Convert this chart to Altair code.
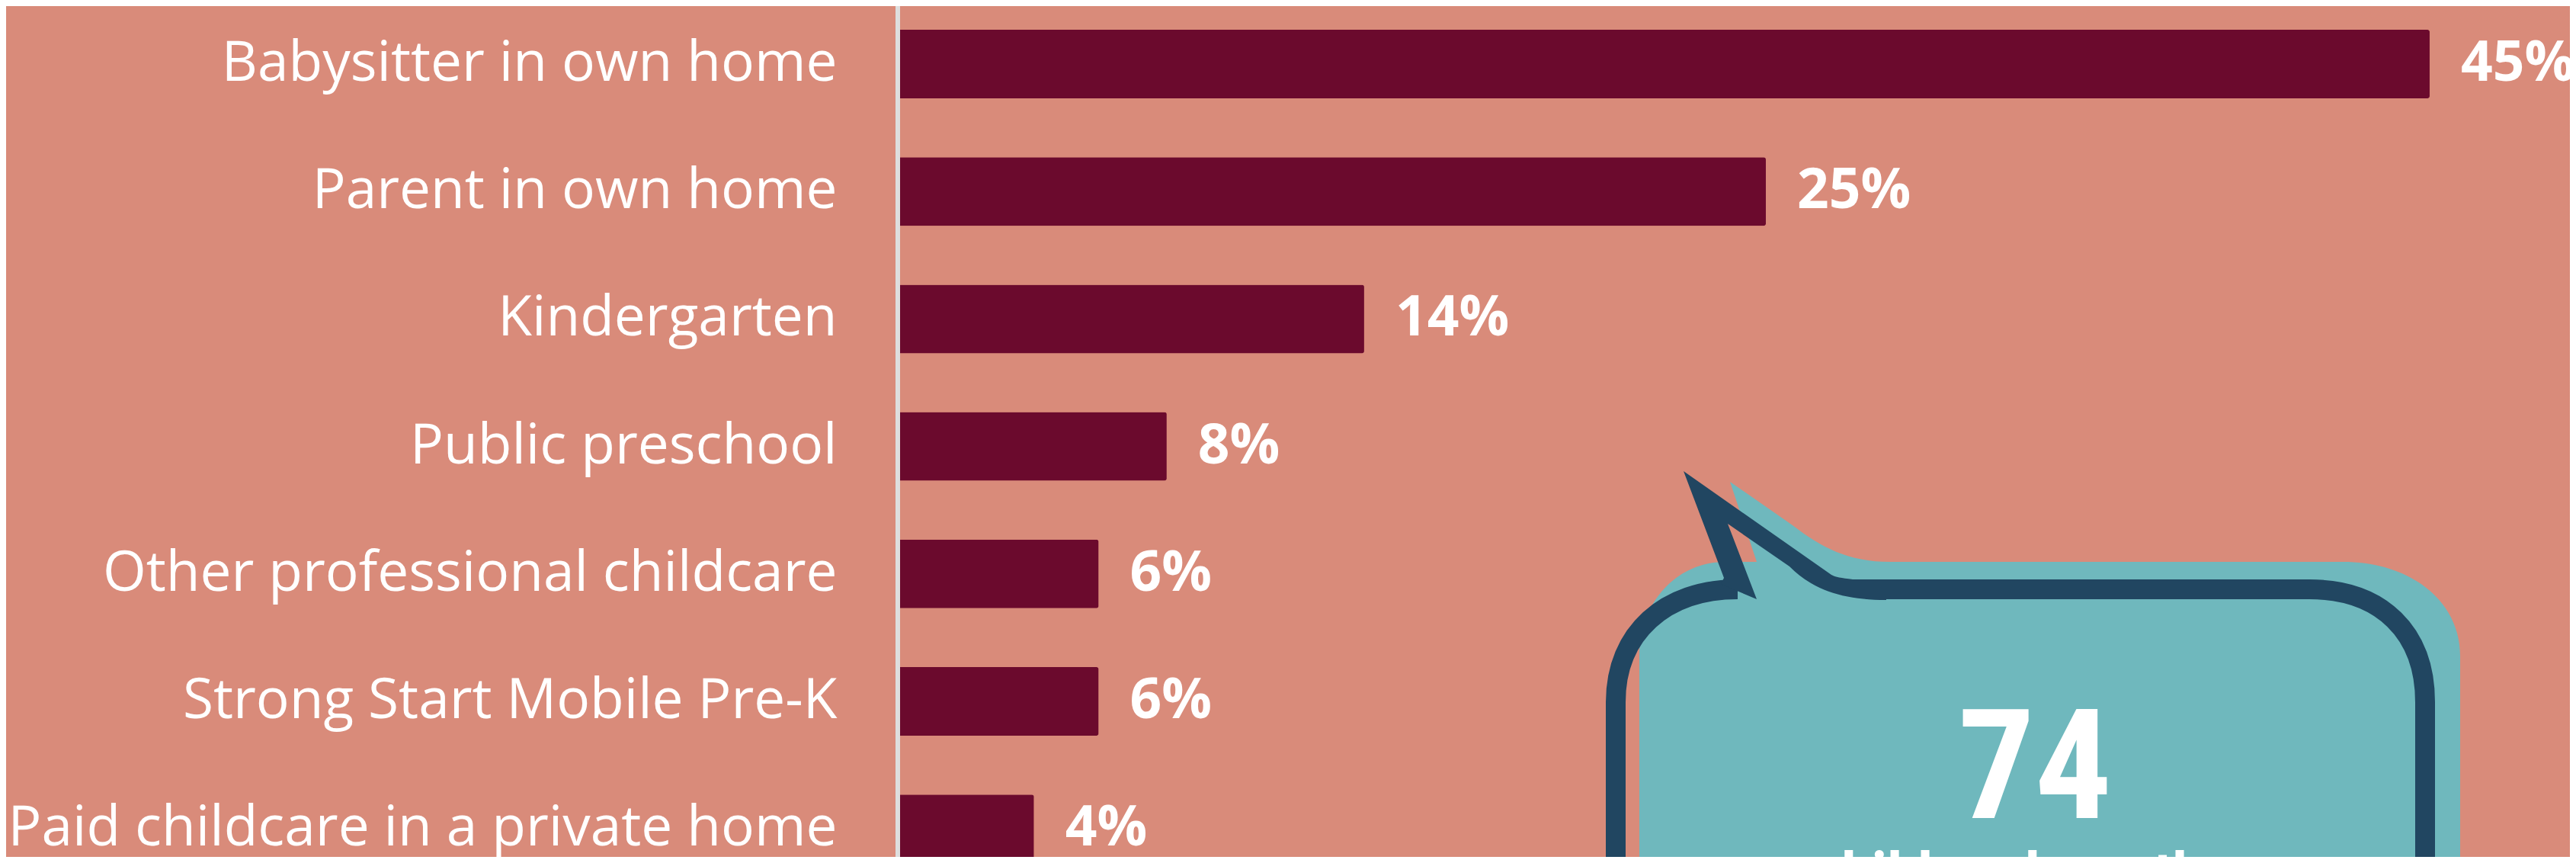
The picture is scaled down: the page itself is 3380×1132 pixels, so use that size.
import altair as alt
import pandas as pd

# ---- data ----
categories = [
    "Babysitter in own home",
    "Parent in own home",
    "Kindergarten",
    "Public preschool",
    "Other professional childcare",
    "Strong Start Mobile Pre-K",
    "Paid childcare in a private home",
]
shares = [45.0, 25.5, 13.7, 7.9, 5.9, 5.9, 4.0]
share_labels = ["45%", "25%", "14%", "8%", "6%", "6%", "4%"]
callout_number = ["74"]
callout_text = ["children have the"]

df = pd.DataFrame({"category": categories, "share": shares, "label": share_labels})

# ---- style ----
BG = "#d98b7a"
MAROON = "#6b0a2d"
TEAL = "#6fb8bd"
NAVY = "#214661"
AXIS = "#dedede"
SANS = "Open Sans"
CONDENSED = ("Noto Sans Condensed, Noto Sans ExtraCondensed, Roboto Condensed, "
             "Open Sans Condensed, Liberation Sans Narrow, DejaVu Sans Condensed, Roboto")

W = 2194
H = 1116
PAD_LEFT = 1170

xscale = alt.Scale(domain=[0, 49.12], nice=False, zero=True)
yscale = alt.Scale(domain=categories, range=[31, 1124.2], paddingInner=0.4617, paddingOuter=0)

base = alt.Chart(df)

bars = base.mark_bar(color=MAROON, cornerRadiusEnd=3).encode(
    x=alt.X("share:Q", scale=xscale, axis=None),
    y=alt.Y(
        "category:N",
        scale=yscale,
        sort=categories,
        axis=alt.Axis(
            title=None,
            domain=False,
            ticks=False,
            tickSize=0,
            grid=False,
            labelPadding=80,
            labelFont=SANS,
            labelFontSize=73,
            labelColor="white",
            labelLimit=1500,
        ),
    ),
)

values = base.mark_text(
    align="left", baseline="middle", dx=41, font=SANS, fontSize=73,
    fontWeight="bold", color="white",
).encode(
    x=alt.X("share:Q", scale=xscale),
    y=alt.Y("category:N", scale=yscale, sort=categories),
    text="label:N",
)

one = pd.DataFrame({"k": [0]})

rule = alt.Chart(one).mark_rule(color=AXIS, strokeWidth=6).encode(
    x=alt.value(0), y=alt.value(0), y2=alt.value(H)
)

# speech-bubble decoration (pixel paths relative to the plot origin)
TEAL_PATH = (
    "M 973 1242 L 973 852 C 973 782 1022 729 1086 729 L 1127 729 L 1092 624 "
    "L 1174 681 C 1212 710 1247 729 1302 729 L 1896 729 C 1987 729 2050 782 2050 852 "
    "L 2050 1242 Z"
)
NAVY_BODY = (
    "M 942 1242 L 942 913 C 942 822 1007 765 1102 765 "
    "M 1270 765 L 1852 765 C 1947 765 2004 822 2004 913 L 2004 1242"
)
NAVY_TAIL = (
    "M 1031 610 L 1084 750 L 1080 758 L 1127 778 L 1089 679 L 1170 735 "
    "C 1202 767 1242 779 1297 779 L 1297 752 L 1253 752 C 1238 750 1230 749 1225 746 Z"
)

bubble_fill = alt.Chart(one).mark_point(
    shape=TEAL_PATH, filled=True, color=TEAL, strokeWidth=0, opacity=1, size=4
).encode(x=alt.value(0), y=alt.value(0))

bubble_line = alt.Chart(one).mark_point(
    shape=NAVY_BODY, filled=False, color=NAVY, strokeWidth=26, opacity=1, size=4,
    strokeCap="butt",
).encode(x=alt.value(0), y=alt.value(0))

bubble_tail = alt.Chart(one).mark_point(
    shape=NAVY_TAIL, filled=True, color=NAVY, strokeWidth=0, opacity=1, size=4
).encode(x=alt.value(0), y=alt.value(0))

num_text = alt.Chart(pd.DataFrame({"t": callout_number})).mark_text(
    align="center", baseline="alphabetic", font=CONDENSED, fontSize=200,
    fontWeight="bold", color="white",
).encode(x=alt.value(1492), y=alt.value(1065), text="t:N")

sub_text = alt.Chart(pd.DataFrame({"t": callout_text})).mark_text(
    align="center", baseline="alphabetic", font=CONDENSED, fontSize=80,
    fontWeight="bold", color="white",
).encode(x=alt.value(1476), y=alt.value(1166), text="t:N")

chart = (
    alt.layer(bars, values, bubble_fill, bubble_line, bubble_tail, num_text, sub_text, rule)
    .properties(
        width=W,
        height=H,
        padding={"left": PAD_LEFT, "top": 0, "right": 0, "bottom": 0},
        autosize=alt.AutoSizeParams(type="none"),
        background=BG,
    )
    .configure_view(strokeWidth=0)
)

chart.save("out.html", embed_options={"renderer": "svg", "actions": False})
